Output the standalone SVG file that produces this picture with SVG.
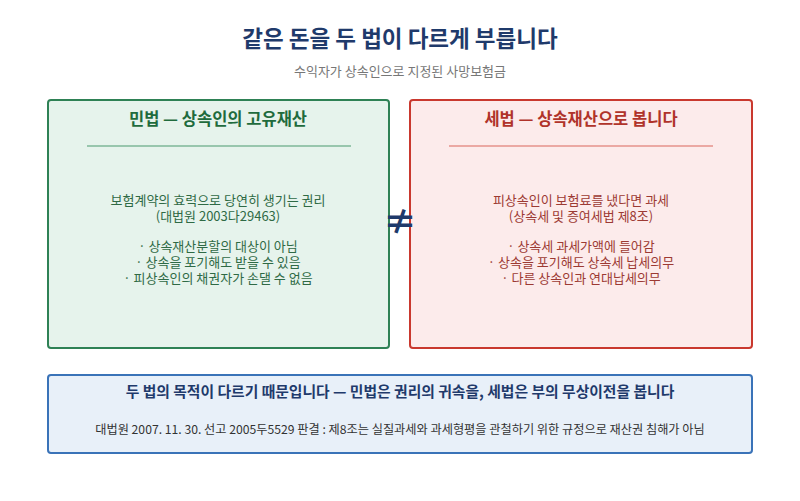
<svg xmlns="http://www.w3.org/2000/svg" width="800" height="501" viewBox="0 0 800 501">
<style>
text{font-family:"Noto Sans CJK KR","Noto Sans",sans-serif;text-anchor:middle}
.h{font-size:16.5px;font-weight:bold}
.b{font-size:13px}
.g{fill:#1f6b3d}.r{fill:#b0332a}
.bg{fill:#2f6a45}.br{fill:#9c3a33}
</style>
<rect width="800" height="501" fill="#fff"/>
<text x="400" y="47" font-size="22.5" font-weight="bold" fill="#1f3a6b">같은 돈을 두 법이 다르게 부릅니다</text>
<text x="400" y="76" font-size="13" fill="#777">수익자가 상속인으로 지정된 사망보험금</text>
<g id="civil">
<rect x="48" y="100" width="341" height="248" rx="3" fill="#e6f3ec" stroke="#2e8155" stroke-width="2"/>
<text x="218" y="125" class="h g">민법 — 상속인의 고유재산</text>
<line x1="87" y1="146" x2="351" y2="146" stroke="#4a9a6e" stroke-width="1.2"/>
<text class="b bg" x="218" y="205">보험계약의 효력으로 당연히 생기는 권리</text>
<text class="b bg" x="218" y="221">(대법원 2003다29463)</text>
<text class="b bg" x="218" y="251">· 상속재산분할의 대상이 아님</text>
<text class="b bg" x="218" y="267">· 상속을 포기해도 받을 수 있음</text>
<text class="b bg" x="218" y="283">· 피상속인의 채권자가 손댈 수 없음</text>
</g>
<g id="tax">
<rect x="410" y="100" width="342" height="248" rx="3" fill="#fcebeb" stroke="#c9382e" stroke-width="2"/>
<text x="581" y="125" class="h r">세법 — 상속재산으로 봅니다</text>
<line x1="449" y1="146" x2="713" y2="146" stroke="#d9675c" stroke-width="1.2"/>
<text class="b br" x="581" y="205">피상속인이 보험료를 냈다면 과세</text>
<text class="b br" x="581" y="221">(상속세 및 증여세법 제8조)</text>
<text class="b br" x="581" y="251">· 상속세 과세가액에 들어감</text>
<text class="b br" x="581" y="267">· 상속을 포기해도 상속세 납세의무</text>
<text class="b br" x="581" y="283">· 다른 상속인과 연대납세의무</text>
</g>
<g id="neq"><text x="400" y="234" font-size="34" font-weight="bold" fill="#1f3a6b">≠</text></g>
<g id="summary">
<rect x="48" y="375" width="704" height="78" rx="3" fill="#e8f0f9" stroke="#3a73b8" stroke-width="2"/>
<text x="400" y="397" font-size="14.8" font-weight="bold" fill="#1f3a6b">두 법의 목적이 다르기 때문입니다 — 민법은 권리의 귀속을, 세법은 부의 무상이전을 봅니다</text>
<text x="400" y="434" font-size="12.2" fill="#333">대법원 2007. 11. 30. 선고 2005두5529 판결 : 제8조는 실질과세와 과세형평을 관철하기 위한 규정으로 재산권 침해가 아님</text>
</g>
<g id="connectors"/>
</svg>
